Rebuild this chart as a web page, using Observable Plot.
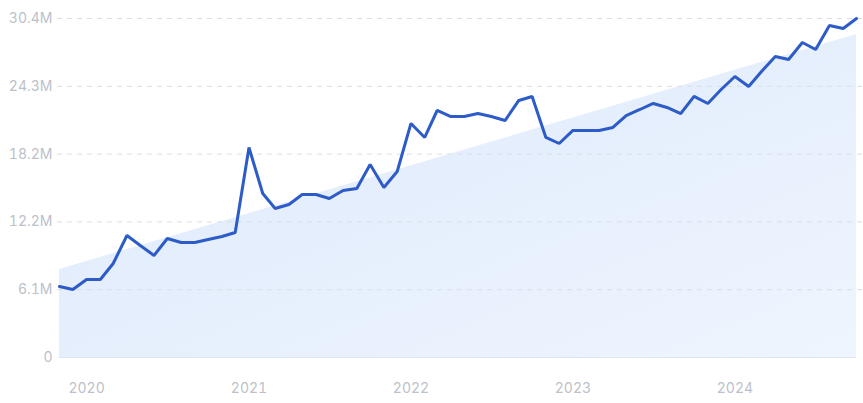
<!DOCTYPE html>
<html>
<head>
<meta charset="utf-8">
<script src="https://cdn.jsdelivr.net/npm/d3@7"></script>
<script src="https://cdn.jsdelivr.net/npm/@observablehq/plot@0.6"></script>
<style>
  html, body { margin: 0; padding: 0; background: #ffffff; }
  #chart { width: 863px; height: 403px; }
  svg { font-family: Inter, "Noto Sans", sans-serif; }
</style>
</head>
<body>
<div id="chart"></div>
<script>
// Monthly values (millions), starting Nov 2019
const startMonth = "2019-11-01";
const values = [
  6.37, 6.10, 7.00, 7.00, 8.43, 10.94, 10.04, 9.15, 10.67, 10.31,
  10.31, 10.58, 10.85, 11.21, 18.83, 14.71, 13.36, 13.72, 14.62, 14.62,
  14.26, 14.98, 15.16, 17.31, 15.25, 16.68, 20.99, 19.73, 22.15, 21.61,
  21.61, 21.88, 21.61, 21.25, 23.05, 23.41, 19.73, 19.19, 20.36, 20.36,
  20.36, 20.63, 21.70, 22.24, 22.78, 22.42, 21.88, 23.41, 22.78, 24.03,
  25.20, 24.30, 25.65, 26.99, 26.72, 28.25, 27.62, 29.77, 29.50, 30.40
];
// Trend band (millions) at first and last month
const trendValues = [7.89, 28.97];
// Axis ticks
const yTickValues = [0, 6.08, 12.16, 18.24, 24.32, 30.4];
const yTickLabels = ["0", "6.1M", "12.2M", "18.2M", "24.3M", "30.4M"];
const xTickYears = [2020, 2021, 2022, 2023, 2024];
const xTickLabels = ["2020", "2021", "2022", "2023", "2024"];

const start = new Date(startMonth);
const series = values.map((v, i) => ({date: d3.utcMonth.offset(start, i), value: v}));
const trend = [
  {date: series[0].date, value: trendValues[0]},
  {date: series[series.length - 1].date, value: trendValues[1]}
];
const xTicks = xTickYears.map(y => new Date(Date.UTC(y, 0, 1)));
const yLabelMap = new Map(yTickValues.map((v, i) => [v, yTickLabels[i]]));
const xLabelMap = new Map(xTickYears.map((y, i) => [y, xTickLabels[i]]));

const chart = Plot.plot({
  width: 863,
  height: 403,
  marginLeft: 59,
  marginRight: 7,
  marginTop: 18,
  marginBottom: 46,
  style: {background: "transparent", fontSize: "14px", fontFamily: "Inter, 'Noto Sans', sans-serif"},
  x: {type: "utc", domain: [series[0].date, series[series.length - 1].date], label: null},
  y: {domain: [0, 30.4], label: null},
  marks: [
    Plot.areaY(trend, {x: "date", y: "value", fill: "url(#trendGrad)"}),
    Plot.ruleY(yTickValues.filter(v => v > 0), {stroke: "#d9dee5", strokeWidth: 1, strokeDasharray: "5,5", insetLeft: -2, insetRight: -7}),
    Plot.ruleY([0], {stroke: "#dce5f2", strokeWidth: 1}),
    Plot.lineY(series, {x: "date", y: "value", stroke: "#2d5bc8", strokeWidth: 3, strokeLinejoin: "miter"}),
    Plot.axisY({ticks: yTickValues, tickSize: 0, tickPadding: 7, tickFormat: d => yLabelMap.get(d), color: "#bcc1c9", fontSize: 14, label: null}),
    Plot.axisX({ticks: xTicks, tickSize: 0, tickPadding: 26, tickFormat: d => xLabelMap.get(d.getUTCFullYear()), color: "#bcc1c9", fontSize: 14, label: null})
  ]
});

// gradient definition for the trend band
const svgSel = d3.select(chart);
const defs = svgSel.insert("defs", ":first-child");
const grad = defs.append("linearGradient")
  .attr("id", "trendGrad")
  .attr("x1", "0%").attr("y1", "0%").attr("x2", "100%").attr("y2", "100%");
grad.append("stop").attr("offset", "0%").attr("stop-color", "#dde9fb");
grad.append("stop").attr("offset", "100%").attr("stop-color", "#eef5fe");

document.getElementById("chart").appendChild(chart);
</script>
</body>
</html>
